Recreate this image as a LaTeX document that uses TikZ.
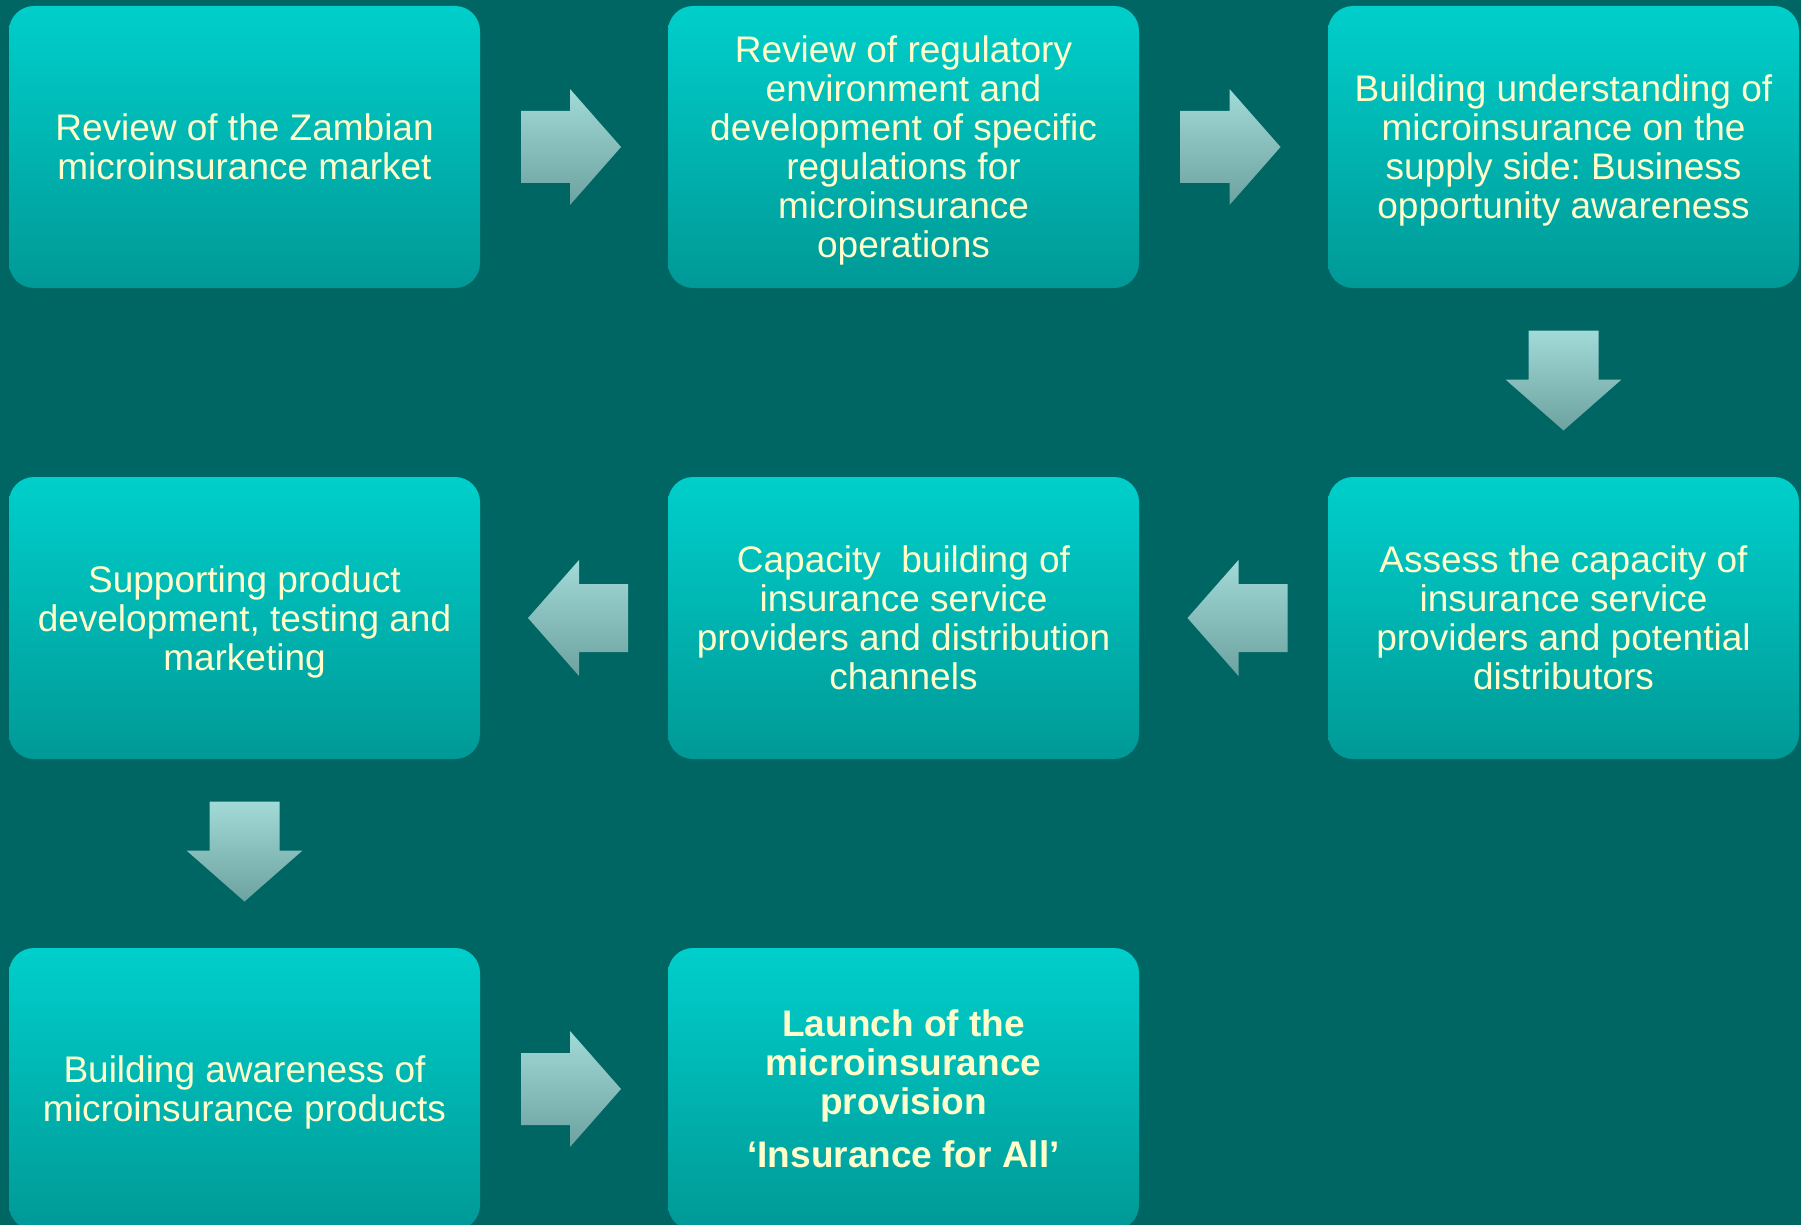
\documentclass[tikz,border=0pt]{standalone}
\usepackage{fontspec}
\setmainfont{Liberation Sans}
\usetikzlibrary{shadings,calc}
\frenchspacing
\definecolor{bgteal}{RGB}{0,102,100}
\definecolor{boxtop}{RGB}{0,207,203}
\definecolor{boxbot}{RGB}{0,153,150}
\definecolor{arrtop}{RGB}{162,218,216}
\definecolor{arrbot}{RGB}{108,162,160}
\definecolor{txtyellow}{RGB}{255,255,204}
\newcommand\capstrut{\rule[-14pt]{0pt}{54.4pt}}
\tikzset{
  stepbox/.style={rectangle, rounded corners=25pt, minimum width=471pt, minimum height=282pt,
    top color=boxtop, bottom color=boxbot, draw=none, inner sep=0pt},
  steptext/.style={text=txtyellow, align=center, inner sep=0pt, font=\fontsize{37}{39}\selectfont,
    execute at begin node=\capstrut, execute at end node=\capstrut, yshift=-7pt},
  arrfill/.style={top color=arrtop, bottom color=arrbot, draw=none},
  rarr/.pic={\path[arrfill] (-50,-36) -- (-1,-36) -- (-1,-58) -- (50,0) -- (-1,58) -- (-1,36) -- (-50,36) -- cycle;},
  larr/.pic={\path[arrfill] (50,-34) -- (1,-34) -- (1,-58) -- (-50,0) -- (1,58) -- (1,34) -- (50,34) -- cycle;},
  darr/.pic={\path[arrfill] (-35,-50) -- (35,-50) -- (35,-1) -- (58,-1) -- (0,50) -- (-58,-1) -- (-35,-1) -- cycle;}
}
\begin{document}
\begin{tikzpicture}[x=1pt,y=-1pt]
\useasboundingbox (0,0) rectangle (1801,1225);
\clip (0,0) rectangle (1801,1225);
\fill[bgteal] (0,0) rectangle (1801,1225);
% boxes
\node[stepbox] (b1) at (244.5,147) {};
\node[stepbox] (b2) at (903.5,147) {};
\node[stepbox] (b3) at (1563.5,147) {};
\node[stepbox] (b4) at (1563.5,618) {};
\node[stepbox] (b5) at (903.5,618) {};
\node[stepbox] (b6) at (244.5,618) {};
\node[stepbox] (b7) at (244.5,1089) {};
\node[stepbox] (b8) at (903.5,1089) {};
% texts
\node[steptext] (t1) at (b1.center) {Review of the Zambian\\microinsurance market};
\node[steptext] (t2) at (b2.center) {Review of regulatory\\environment and\\development of specific\\regulations for\\microinsurance\\operations};
\node[steptext] (t3) at (b3.center) {Building understanding of\\microinsurance on the\\supply side: Business\\opportunity awareness};
\node[steptext] (t4) at (b4.center) {Assess the capacity of\\insurance service\\providers and potential\\distributors};
\node[steptext] (t5) at (b5.center) {Capacity\ \ building of\\insurance service\\providers and distribution\\channels};
\node[steptext] (t6) at (b6.center) {Supporting product\\development, testing and\\marketing};
\node[steptext] (t7) at (b7.center) {Building awareness of\\microinsurance products};
\node[steptext, font=\fontsize{37}{39}\selectfont\bfseries] (t8) at (b8.center) {Launch of the\\microinsurance\\provision\\[14pt]‘Insurance for All’};
% arrows
\pic at ($(b1.east)!0.5!(b2.west)+(-3,0)$) {rarr};
\pic at ($(b2.east)!0.5!(b3.west)+(-3,0)$) {rarr};
\pic at ($(b3.south)!0.5!(b4.north)+(0,-2)$) {darr};
\pic at ($(b4.west)!0.5!(b5.east)+(4,0)$) {larr};
\pic at ($(b5.west)!0.5!(b6.east)+(4,0)$) {larr};
\pic at ($(b6.south)!0.5!(b7.north)+(0,-2)$) {darr};
\pic at ($(b7.east)!0.5!(b8.west)+(-3,0)$) {rarr};
\end{tikzpicture}
\end{document}
